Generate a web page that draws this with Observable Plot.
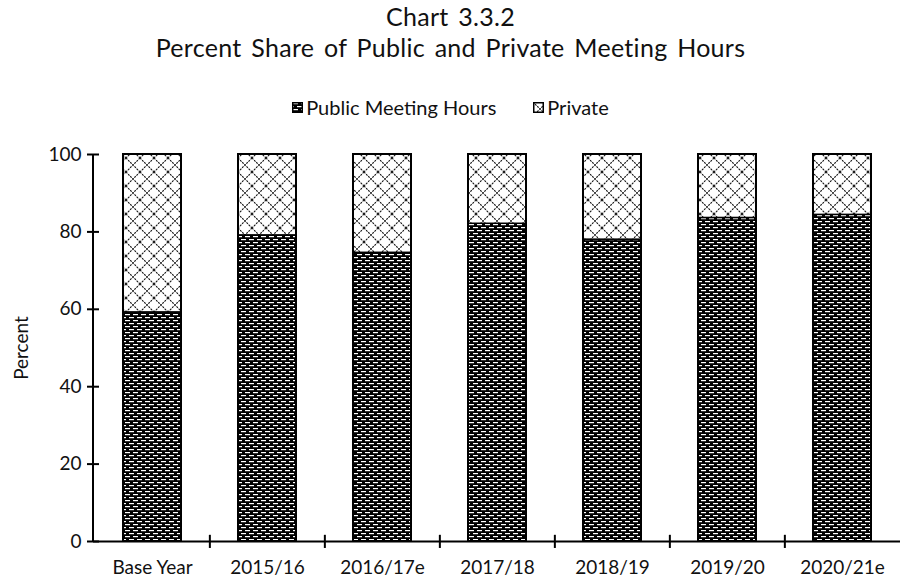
<!DOCTYPE html>
<html>
<head>
<meta charset="utf-8">
<script src="https://cdn.jsdelivr.net/npm/d3@7"></script>
<script src="https://cdn.jsdelivr.net/npm/@observablehq/plot@0.6"></script>
<style>
  body { margin: 0; background: #fff; font-family: Lato, "Open Sans", sans-serif; color: #111; }
  #wrap { position: relative; width: 901px; height: 578px; overflow: hidden; }
  #title { position: absolute; left: 0; top: 1px; width: 901px; text-align: center; font-size: 25px; line-height: 31px; word-spacing: 3px; letter-spacing: 0.3px; }
  #legend { position: absolute; left: 0; top: 95px; width: 901px; display: flex; justify-content: center; gap: 37px; font-size: 20px; line-height: 24px; }
  #legend .item { display: flex; align-items: center; gap: 3px; }
  #legend svg { display: block; }
  #chart { position: absolute; left: 0; top: 130px; }
</style>
</head>
<body>
<div id="wrap">
  <div id="title">Chart 3.3.2<br>Percent Share of Public and Private Meeting Hours</div>
  <div id="legend"></div>
  <div id="chart"></div>
</div>
<script>
const categories = ["Base Year", "2015/16", "2016/17e", "2017/18", "2018/19", "2019/20", "2020/21e"];
const publicShare = [59.2, 79.1, 74.6, 82.1, 78.0, 83.6, 84.4];
const seriesNames = ["Public Meeting Hours", "Private"];
const yTicks = [0, 20, 40, 60, 80, 100];

const patternIds = {"Public Meeting Hours": "pat-public", "Private": "pat-private"};

const rows = [];
categories.forEach((c, i) => {
  rows.push({category: c, series: "Public Meeting Hours", value: publicShare[i]});
  rows.push({category: c, series: "Private", value: 100 - publicShare[i]});
});

const defsMarkup = `
  <pattern id="pat-public" patternUnits="userSpaceOnUse" width="8" height="6">
    <rect width="8" height="6" fill="#000"/>
    <rect x="1" y="1" width="5" height="1.2" fill="#fff"/>
    <rect x="5" y="4" width="5" height="1.2" fill="#fff"/>
    <rect x="-3" y="4" width="5" height="1.2" fill="#fff"/>
  </pattern>
  <pattern id="pat-private" patternUnits="userSpaceOnUse" width="14" height="14">
    <rect width="14" height="14" fill="#fff"/>
    <path d="M0,0L14,14M14,0L0,14" stroke="#111" stroke-width="1.1" stroke-dasharray="2,1"/>
  </pattern>`;

const W = 901, H = 448;
const mL = 93, mR = 1, mT = 24, mB = 37;
const step = (W - mL - mR) / categories.length;

const plot = Plot.plot({
  width: W,
  height: H,
  marginLeft: mL,
  marginRight: mR,
  marginTop: mT,
  marginBottom: mB,
  style: {fontFamily: "Lato, 'Open Sans', sans-serif", fontSize: "19px", color: "#111", background: "#fff"},
  x: {domain: categories, paddingInner: 0.5, paddingOuter: 0.25, label: null},
  y: {domain: [0, 100], ticks: yTicks, label: null},
  marks: [
    Plot.barY(rows, Plot.stackY({
      x: "category",
      y: "value",
      fill: d => `url(#${patternIds[d.series]})`,
      order: seriesNames,
      z: "series",
      stroke: "#000",
      strokeWidth: 1.5
    })),
    Plot.barY(categories, {x: d => d, y1: 0, y2: 100, fill: "none", stroke: "#000", strokeWidth: 2}),
    Plot.ruleY([0], {stroke: "#000", strokeWidth: 2}),
    Plot.axisY({ticks: yTicks, tickSize: 6, tickPadding: 6, stroke: "#000", strokeWidth: 2, fontSize: 19}),
    Plot.axisY({ticks: yTicks, tickSize: -6, text: null, stroke: "#000", strokeWidth: 2}),
    Plot.ruleX(categories.slice(1), {x: d => d, dx: -step / 2, y1: -1.8, y2: 1.6, stroke: "#000", strokeWidth: 2}),
    Plot.axisX({tickSize: 0, tickPadding: 19, fontSize: 19}),
    Plot.text(["Percent"], {frameAnchor: "left", textAnchor: "middle", dx: -72, rotate: -90, fontSize: 19})
  ]
});

const svg = d3.select(plot);
svg.insert("defs", ":first-child").html(defsMarkup);
svg.append("line")
  .attr("x1", mL).attr("x2", mL)
  .attr("y1", mT).attr("y2", H - mB)
  .attr("stroke", "#000").attr("stroke-width", 2);
document.getElementById("chart").appendChild(plot);

// legend
const legend = d3.select("#legend");
seriesNames.forEach((name, i) => {
  const item = legend.append("div").attr("class", "item");
  const s = item.append("svg").attr("width", 11).attr("height", 11);
  const prefix = "lg" + i + "-";
  s.append("defs").html(defsMarkup.replace(/pat-/g, prefix));
  s.append("rect").attr("x", 0.75).attr("y", 0.75).attr("width", 9.5).attr("height", 9.5)
    .attr("fill", `url(#${patternIds[name].replace("pat-", prefix)})`)
    .attr("stroke", "#000").attr("stroke-width", 1.5);
  item.append("span").text(name);
});
</script>
</body>
</html>
